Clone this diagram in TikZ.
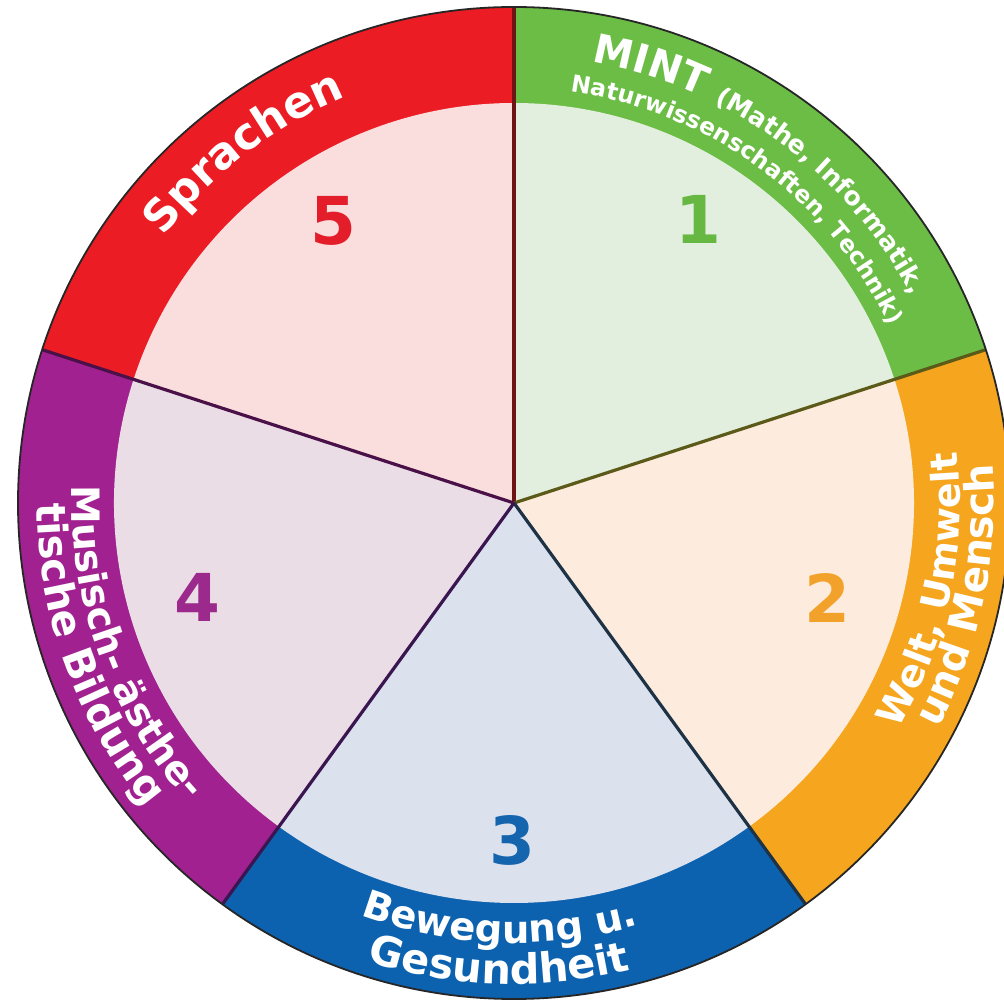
\documentclass[tikz,border=0pt]{standalone}
\usepackage{fontspec}
\setmainfont{DejaVu Sans}
\newfontfamily\labfont{DejaVu Sans}
\usetikzlibrary{decorations.text}
\definecolor{dgreen}{HTML}{6CBD45}\definecolor{lgreen}{HTML}{E2EFDE}
\definecolor{dorange}{HTML}{F6A51E}\definecolor{lorange}{HTML}{FDECDE}
\definecolor{dblue}{HTML}{0C62AF}\definecolor{lblue}{HTML}{DCE1EE}
\definecolor{dpurple}{HTML}{A0218F}\definecolor{lpurple}{HTML}{EADDE6}
\definecolor{dred}{HTML}{EC1C24}\definecolor{lred}{HTML}{FADEDE}
\definecolor{divA}{HTML}{6E1414}\definecolor{divB}{HTML}{5C5A18}
\definecolor{divC}{HTML}{1E3246}\definecolor{divD}{HTML}{3A1650}
\definecolor{divE}{HTML}{4A1048}
\definecolor{numgreen}{HTML}{66B843}\definecolor{numorange}{HTML}{F2A22B}
\definecolor{numblue}{HTML}{1464AE}\definecolor{numpurple}{HTML}{9B2A8C}
\definecolor{numred}{HTML}{E31E2A}
\newcommand\lsz[1]{\labfont\bfseries\fontsize{#1}{#1}\selectfont}
\newcommand\szMint{\lsz{40}}
\newcommand\szMintS{\lsz{25.5}}
\newcommand\szMintT{\lsz{23.6}}
\newcommand\szSpr{\lsz{44}}
\newcommand\szWa{\lsz{38}}
\newcommand\szWb{\lsz{40.5}}
\newcommand\szBa{\lsz{38.6}}
\newcommand\szBb{\lsz{41.5}}
\newcommand\szMa{\lsz{39}}
\newcommand\szMb{\lsz{41}}
\tikzset{
  numlabel/.style={font=\lsz{66}, inner sep=0pt, anchor=center},
  divider/.style={line width=3.2pt},
  bandtext/.style={decorate, decoration={text along path, text align=left, text color=white, text={#1}}}
}
\begin{document}
\begin{tikzpicture}[x=1pt,y=1pt]
\useasboundingbox (-514,-497) rectangle (490,503);
\clip (-514,-497) rectangle (490,503);
\fill[white] (-514,-497) rectangle (490,503);
\coordinate (C) at (0,0);
% sectors
\foreach \a/\b/\dk/\lt in {18/90/dgreen/lgreen, -54/18/dorange/lorange, -126/-54/dblue/lblue, 162/234/dpurple/lpurple, 90/162/dred/lred}{
  \fill[\dk] (C) -- (\a:496) arc[start angle=\a, end angle=\b, radius=496] -- cycle;
  \fill[\lt] (C) -- (\a:400) arc[start angle=\a, end angle=\b, radius=400] -- cycle;
}
% dividers
\foreach \ang/\col in {90/divA, 18/divB, -54/divC, -126/divD, 162/divE}{
  \draw[divider, \col] (C) -- (\ang:496);
}
\draw[line width=1.8pt, black!85] (C) circle[radius=496];
% numbers
\node[numlabel, text=numgreen] (n1) at (184,284) {1};
\node[numlabel, text=numorange] (n2) at (313,-95) {2};
\node[numlabel, text=numblue] (n3) at (-2,-337) {3};
\node[numlabel, text=numpurple] (n4) at (-317,-94) {4};
\node[numlabel, text=numred] (n5) at (-181,282) {5};
% band texts
\path[bandtext={|\szMint|MINT |\szMintS|(Mathe, Informatik,}] (80:448) arc[start angle=80, end angle=5, radius=448];
\path[bandtext={|\szMintT|Naturwissenschaften, Technik)}] (82.2:415) arc[start angle=82.2, end angle=5, radius=415];
\path[bandtext={|\szSpr|Sprachen}] (142.8:440) arc[start angle=142.8, end angle=95, radius=440];
\path[bandtext={|\szWa|Welt, Umwelt}] (-30.5:446) arc[start angle=-30.5, end angle=20, radius=446];
\path[bandtext={|\szWb|und Mensch}] (-28:480) arc[start angle=-28, end angle=20, radius=480];
\path[bandtext={|\szBa|Bewegung u.}] (-110.4:440) arc[start angle=-110.4, end angle=-55, radius=440];
\path[bandtext={|\szBb|Gesundheit}] (-107.8:481) arc[start angle=-107.8, end angle=-55, radius=481];
\path[bandtext={|\szMa|Musisch- ästhe-}] (177.7:442) arc[start angle=177.7, end angle=240, radius=442];
\path[bandtext={|\szMb|tische Bildung}] (180:477) arc[start angle=180, end angle=240, radius=477];
\end{tikzpicture}
\end{document}
